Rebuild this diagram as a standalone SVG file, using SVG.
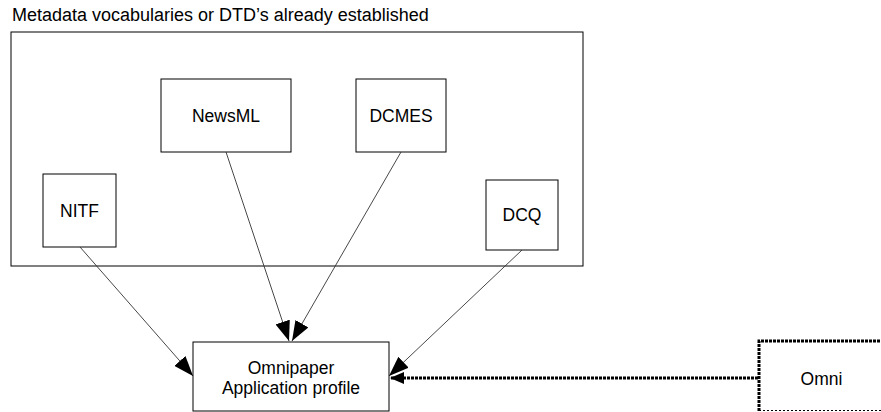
<svg xmlns="http://www.w3.org/2000/svg" width="881" height="412" viewBox="0 0 881 412">
<style>
  text { font-family: "Liberation Sans", Arial, sans-serif; fill: #000; }
  .lbl { font-size: 17.5px; text-anchor: middle; }
  .title { font-size: 18px; }
  .box { fill: #fff; stroke: #000; stroke-width: 1; }
  .edge { fill: none; stroke: #333; stroke-width: 0.9; }
  .dotted { fill: none; stroke: #000; stroke-width: 3; stroke-dasharray: 3 1; }
</style>
<defs>
  <marker id="arrow" markerUnits="userSpaceOnUse" markerWidth="20" markerHeight="15" refX="20" refY="7.5" orient="auto" viewBox="0 0 20 15">
    <path d="M0,0 L20,7.5 L0,15 z" fill="#000"/>
  </marker>
  <marker id="arrowDot" markerUnits="userSpaceOnUse" markerWidth="14" markerHeight="12" refX="14" refY="6" orient="auto" viewBox="0 0 14 12">
    <path d="M0,0 L14,6 L0,12 z" fill="#000"/>
  </marker>
</defs>

<g id="group-established">
  <text class="title" x="12" y="21">Metadata vocabularies or DTD’s already established</text>
  <rect class="box" x="11" y="32" width="572" height="234"/>
</g>

<g id="node-newsml">
  <rect class="box" x="161" y="79" width="130" height="73"/>
  <text class="lbl" x="226" y="122">NewsML</text>
</g>
<g id="node-dcmes">
  <rect class="box" x="356" y="79" width="90" height="73"/>
  <text class="lbl" x="401" y="122">DCMES</text>
</g>
<g id="node-nitf">
  <rect class="box" x="43" y="174" width="73" height="73"/>
  <text class="lbl" x="79.5" y="217">NITF</text>
</g>
<g id="node-dcq">
  <rect class="box" x="486" y="180" width="72" height="70"/>
  <text class="lbl" x="522" y="221">DCQ</text>
</g>

<g id="node-omnipaper">
  <rect class="box" x="193" y="342" width="196" height="69"/>
  <text class="lbl" x="291" y="374">Omnipaper</text>
  <text class="lbl" x="291" y="394">Application profile</text>
</g>

<g id="node-omni">
  <rect x="759" y="341" width="130" height="70" fill="#fff" stroke="none"/>
  <path class="dotted" d="M759,411 L759,341 L881,341"/>
  <line x1="759" y1="410.5" x2="881" y2="410.5" stroke="#000" stroke-width="1" stroke-dasharray="2 2"/>
  <text class="lbl" x="821.5" y="385">Omni</text>
</g>

<g id="connectors">
  <line class="edge" x1="80" y1="247" x2="193" y2="376" marker-end="url(#arrow)"/>
  <line class="edge" x1="226" y1="152" x2="289" y2="341" marker-end="url(#arrow)"/>
  <line class="edge" x1="401" y1="152" x2="292" y2="341" marker-end="url(#arrow)"/>
  <line class="edge" x1="522" y1="250" x2="389" y2="376" marker-end="url(#arrow)"/>
  <line class="dotted" x1="758" y1="378" x2="390" y2="378" marker-end="url(#arrowDot)"/>
</g>
</svg>
